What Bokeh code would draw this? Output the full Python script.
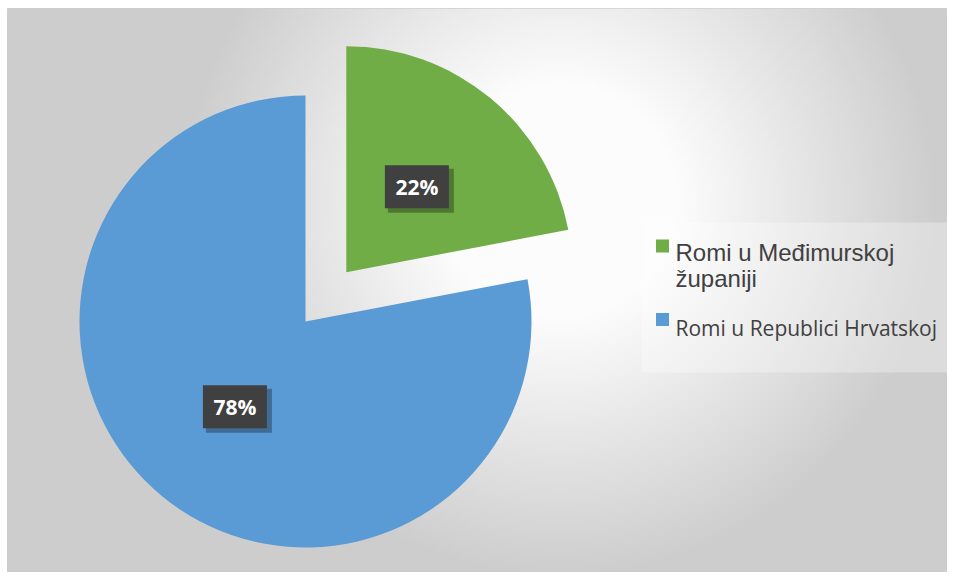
import textwrap
import numpy as np
from bokeh.plotting import figure
from bokeh.models import Range1d
from bokeh.core.properties import value
from bokeh.embed import file_html
from bokeh.resources import INLINE

# ---- data ----
categories = ["Romi u Međimurskoj županiji", "Romi u Republici Hrvatskoj"]
shares = [22, 78]
colors = ["#70ad47", "#5b9bd5"]
legend_fonts = ["Liberation Sans", "Open Sans"]
legend_sizes = ["24px", "21px"]
legend_wrap = [18, 40]

W, H = 940, 564
p = figure(width=W + 7, height=H + 8, x_range=Range1d(0, W), y_range=Range1d(0, H),
           output_backend="svg", toolbar_location=None,
           x_axis_location=None, y_axis_location=None,
           min_border=0, min_border_left=7, min_border_top=8)
p.grid.visible = False
p.outline_line_color = "#cfcfcf"
p.background_fill_color = "#e4e4e4"
p.border_fill_color = "white"

# ---- radial gradient background (styling only) ----
nx, ny = 236, 141
gx = np.linspace(0, W, nx)
gy = np.linspace(0, H, ny)
GX, GY = np.meshgrid(gx, gy)
dist = np.hypot(GX - 553, GY - 372)
shade = 205 + 47 * np.clip(1 - (dist - 120) / 260, 0, 1)
img = np.empty((ny, nx), dtype=np.uint32)
view = img.view(dtype=np.uint8).reshape((ny, nx, 4))
view[..., 0] = shade
view[..., 1] = shade
view[..., 2] = shade
view[..., 3] = 255
p.image_rgba(image=[img], x=0, y=0, dw=W, dh=H)

# ---- pie ----
cx, cy, r = 298, 251, 226
explode = [64, 0]
label_pos = 0.49
total = float(sum(shares))
angle = np.pi / 2
for i, (cat, val, col) in enumerate(zip(categories, shares, colors)):
    frac = val / total
    a_start = angle
    a_end = angle - frac * 2 * np.pi
    angle = a_end
    mid = (a_start + a_end) / 2
    ox = cx + explode[i] * np.cos(mid)
    oy = cy + explode[i] * np.sin(mid)
    p.wedge(x=[ox], y=[oy], radius=r, start_angle=a_end, end_angle=a_start,
            fill_color=col, line_color=None)
    lx = ox + label_pos * r * np.cos(mid)
    ly = oy + label_pos * r * np.sin(mid)
    # label shadow + box
    p.rect(x=[lx + 4], y=[ly - 4], width=66, height=44, fill_color="black",
           fill_alpha=0.3, line_color=None)
    p.rect(x=[lx], y=[ly], width=64, height=43, fill_color="#404040",
           line_color=None)
    p.text(x=[lx], y=[ly], text=[f"{round(frac * 100)}%"], text_color="white",
           text_font=value("Open Sans"), text_font_style="bold",
           text_font_size="21px", text_align="center", text_baseline="middle")

# ---- legend ----
p.rect(x=[789.5], y=[275], width=311, height=150, fill_color="white",
       fill_alpha=0.3, line_color=None)
item_y = [320, 245]
swatch_y = [326.5, 253]
line_h = 26
for cat, col, yb, sy, fnt, fs, wr in zip(categories, colors, item_y, swatch_y,
                                         legend_fonts, legend_sizes, legend_wrap):
    p.rect(x=[655], y=[sy], width=13, height=13, fill_color=col,
           line_color=None)
    for k, line in enumerate(textwrap.wrap(cat, wr)):
        p.text(x=[668], y=[yb - k * line_h], text=[line], text_color="#404040",
               text_font=value(fnt), text_font_size=fs,
               text_align="left", text_baseline="alphabetic")

open("out.html", "w").write(file_html(p, INLINE))
